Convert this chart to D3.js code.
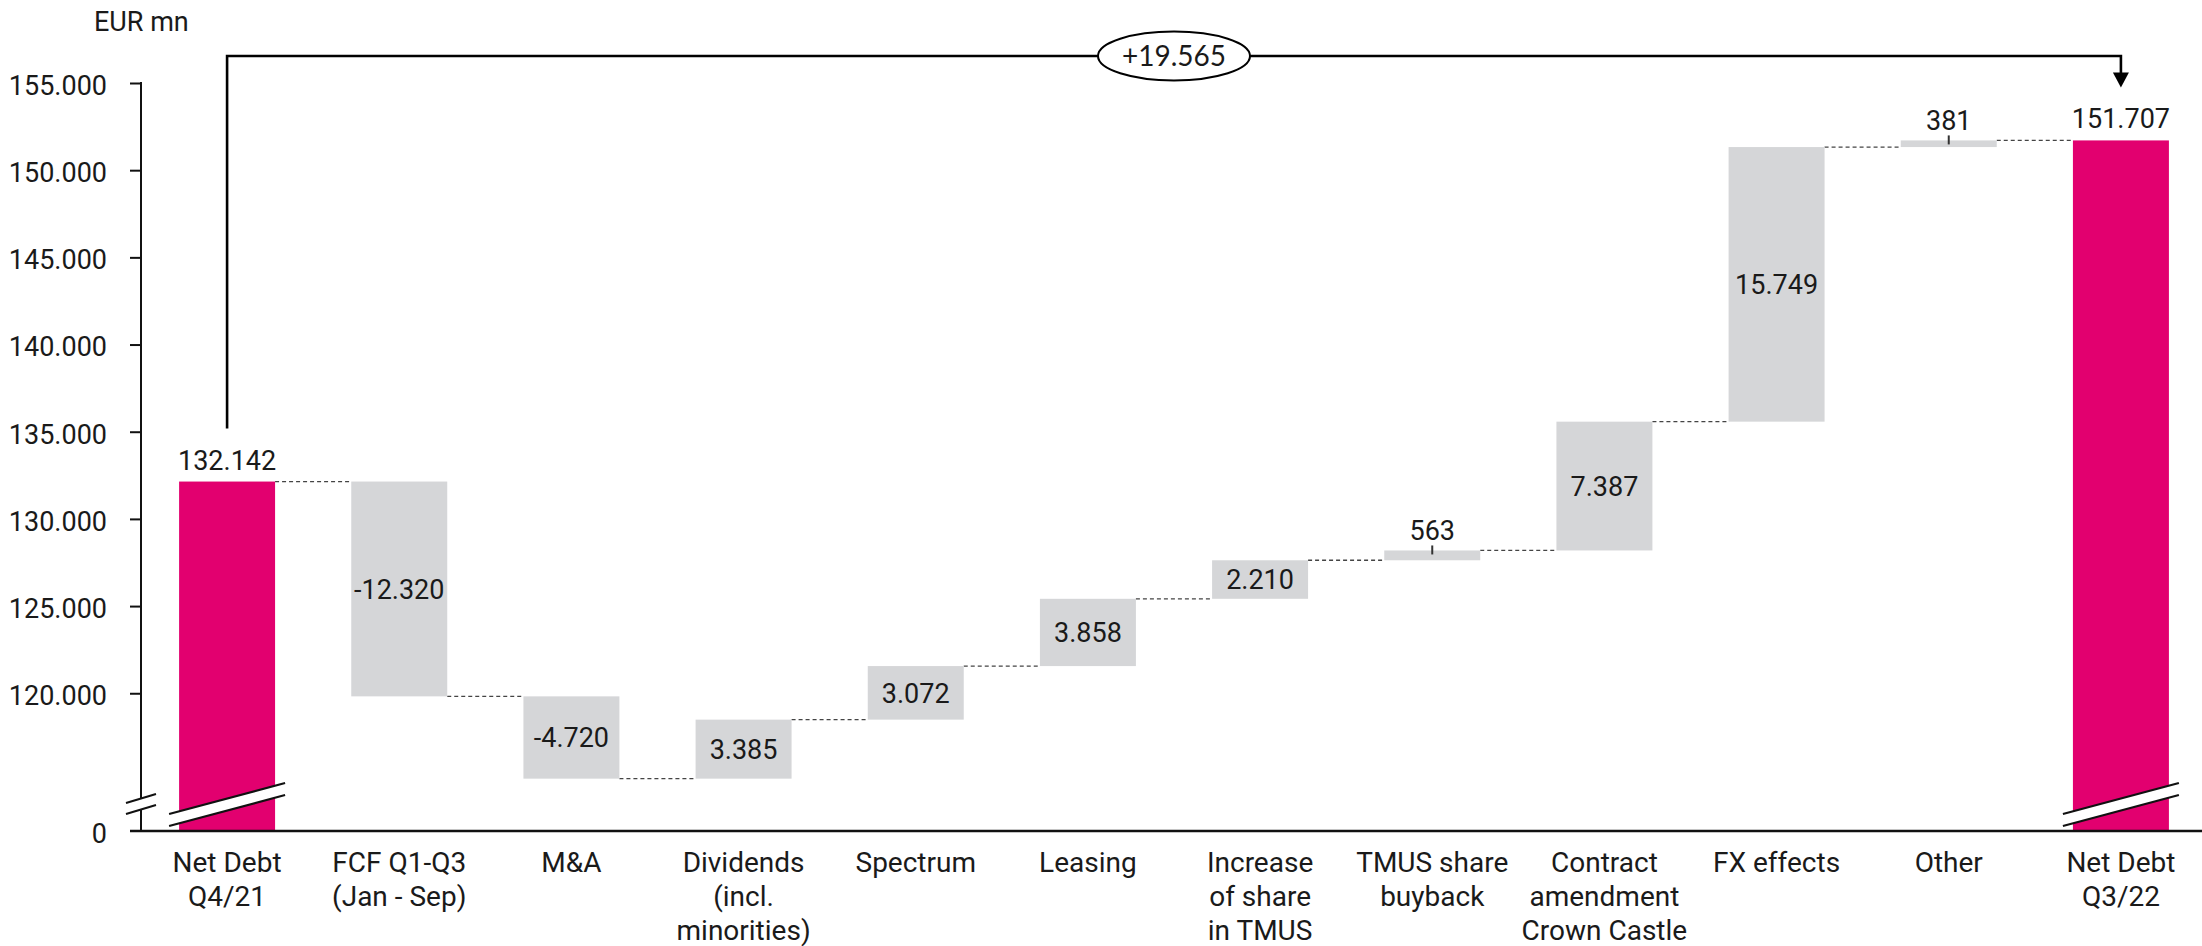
<!DOCTYPE html>
<html>
<head>
<meta charset="utf-8">
<script src="https://cdn.jsdelivr.net/npm/d3@7"></script>
<style>
  html, body { margin: 0; padding: 0; background: #fff; }
  svg text { font-family: 'Liberation Sans Narrow', 'Arial Narrow', Roboto, sans-serif; fill: #1a1a1a; }
</style>
</head>
<body>
<div id="chart"></div>
<script>
// data
const categories = [
    ["Net Debt", "Q4/21"],
    ["FCF Q1-Q3", "(Jan - Sep)"],
    ["M&A"],
    ["Dividends", "(incl.", "minorities)"],
    ["Spectrum"],
    ["Leasing"],
    ["Increase", "of share", "in TMUS"],
    ["TMUS share", "buyback"],
    ["Contract", "amendment", "Crown Castle"],
    ["FX effects"],
    ["Other"],
    ["Net Debt", "Q3/22"]
];
const values = [132142, -12320, -4720, 3385, 3072, 3858, 2210, 563, 7387, 15749, 381, 151707];
const isTotal = [true, false, false, false, false, false, false, false, false, false, false, true];
const yTicks = [120000, 125000, 130000, 135000, 140000, 145000, 150000, 155000];
const unitLabel = "EUR mn";

const W = 2202, H = 946;
const MAGENTA = "#e2006f", GREY = "#d5d6d8";
const FS = 28;      // labels
const FSN = 27;     // numbers

const de = d3.formatLocale({ decimal: ",", thousands: ".", grouping: [3], currency: ["", " €"], minus: "-" });
const fmt = de.format(",d");
const fmtSigned = de.format("+,d");

const svg = d3.select("#chart").append("svg")
    .attr("width", W)
    .attr("height", H);

// broken axis: bottom of the plot stands for 0
const yBottom = 112100;
const y = d3.scaleLinear()
    .domain([yBottom, 155000])
    .range([831, 83]);

const x = d3.scaleBand()
    .domain(d3.range(categories.length))
    .range([141, 2207])
    .paddingInner(0.4425)
    .paddingOuter(0.22125);

// running totals
let running = 0;
const bars = values.map((v, i) => {
    let lo, hi, end;
    if (isTotal[i]) {
        lo = yBottom; hi = v; end = v;
    } else {
        end = running + v;
        lo = Math.min(running, end); hi = Math.max(running, end);
    }
    running = end;
    return { i: i, v: v, lo: lo, hi: hi, end: end, total: isTotal[i] };
});

// y axis
const yAxis = d3.axisLeft(y)
    .tickValues([yBottom].concat(yTicks))
    .tickSize(11)
    .tickPadding(23)
    .tickFormat(d => d === yBottom ? "0" : fmt(d));

const gy = svg.append("g")
    .attr("transform", "translate(141,0)")
    .call(yAxis);
gy.select(".domain").remove();
gy.selectAll(".tick line").attr("stroke", "#111").attr("stroke-width", 2);
gy.selectAll(".tick text")
    .style("font-size", FSN + "px")
    .attr("dy", "0.42em")
    .attr("fill", "#1a1a1a");
gy.selectAll(".tick").filter(d => d === yBottom).select("line").remove();

// axis line with break
svg.append("line")
    .attr("x1", 141).attr("x2", 141)
    .attr("y1", y(155000) - 1).attr("y2", 798)
    .attr("stroke", "#111").attr("stroke-width", 2);
svg.append("line")
    .attr("x1", 141).attr("x2", 141)
    .attr("y1", 810).attr("y2", y(yBottom))
    .attr("stroke", "#111").attr("stroke-width", 2);
[[-28, -37], [-17, -26]].forEach(o => {
    svg.append("line")
        .attr("x1", 126).attr("y1", y(yBottom) + o[0])
        .attr("x2", 156).attr("y2", y(yBottom) + o[1])
        .attr("stroke", "#111").attr("stroke-width", 2);
});

svg.append("text")
    .attr("x", 94).attr("y", 31)
    .style("font-size", FSN + "px")
    .text(unitLabel);

// dashed connectors
svg.append("g")
    .selectAll("line")
    .data(bars.slice(0, -1))
    .enter().append("line")
    .attr("x1", d => x(d.i) + x.bandwidth())
    .attr("x2", d => x(d.i + 1))
    .attr("y1", d => y(d.end))
    .attr("y2", d => y(d.end))
    .attr("stroke", "#444")
    .attr("stroke-width", 1.3)
    .attr("stroke-dasharray", "4,3");

// bars
svg.append("g")
    .selectAll("rect")
    .data(bars)
    .enter().append("rect")
    .attr("x", d => x(d.i))
    .attr("width", x.bandwidth())
    .attr("y", d => y(d.hi))
    .attr("height", d => y(d.lo) - y(d.hi))
    .attr("fill", d => d.total ? MAGENTA : GREY);

// break marks across the total bars
bars.filter(d => d.total).forEach(d => {
    const xl = x(d.i) - 10, xr = x(d.i) + x.bandwidth() + 10, b = y(yBottom);
    svg.append("polygon")
        .attr("points", [[xl, b - 17], [xr, b - 48], [xr, b - 36], [xl, b - 5]].join(" "))
        .attr("fill", "#fff");
    [[-17, -48], [-5, -36]].forEach(o => {
        svg.append("line")
            .attr("x1", xl).attr("y1", b + o[0])
            .attr("x2", xr).attr("y2", b + o[1])
            .attr("stroke", "#111").attr("stroke-width", 2.2);
    });
});

// baseline
svg.append("line")
    .attr("x1", 130).attr("x2", W)
    .attr("y1", y(yBottom)).attr("y2", y(yBottom))
    .attr("stroke", "#111").attr("stroke-width", 2.5);

// value labels
const cx = i => x(i) + x.bandwidth() / 2;
bars.forEach(d => {
    const h = y(d.lo) - y(d.hi);
    const txt = fmt(d.v);
    if (d.total) {
        svg.append("text")
            .attr("x", cx(d.i)).attr("y", y(d.hi) - 12)
            .attr("text-anchor", "middle")
            .style("font-size", FSN + "px")
            .text(txt);
    } else if (h > 20) {
        svg.append("text")
            .attr("x", cx(d.i)).attr("y", (y(d.lo) + y(d.hi)) / 2)
            .attr("dy", "0.36em")
            .attr("text-anchor", "middle")
            .style("font-size", FSN + "px")
            .text(txt);
    } else {
        const top = y(d.hi);
        svg.append("line")
            .attr("x1", cx(d.i)).attr("x2", cx(d.i))
            .attr("y1", top - 5).attr("y2", top + 4)
            .attr("stroke", "#333").attr("stroke-width", 2);
        svg.append("text")
            .attr("x", cx(d.i)).attr("y", top - 10)
            .attr("text-anchor", "middle")
            .style("font-size", FSN + "px")
            .text(txt);
    }
});

// category labels
const cat = svg.append("g")
    .selectAll("text")
    .data(categories)
    .enter().append("text")
    .attr("x", (d, i) => cx(i))
    .attr("y", 872)
    .attr("text-anchor", "middle")
    .style("font-size", FS + "px");
cat.selectAll("tspan")
    .data(d => d)
    .enter().append("tspan")
    .attr("x", function () { return this.parentNode.getAttribute("x"); })
    .attr("dy", (d, j) => j === 0 ? 0 : 34)
    .text(d => d);

// bridge bracket with total change
const first = bars[0], last = bars[bars.length - 1];
const xa = cx(first.i), xb = cx(last.i), yb = y(155000) - 27;
const diff = last.v - first.v;
svg.append("path")
    .attr("d", `M${xa},${y(first.hi) - 53}V${yb}H${xb}V${y(last.hi) - 66}`)
    .attr("fill", "none")
    .attr("stroke", "#000")
    .attr("stroke-width", 2.6);
svg.append("path")
    .attr("d", `M${xb - 8},${y(last.hi) - 68}L${xb + 8},${y(last.hi) - 68}L${xb},${y(last.hi) - 53}Z`)
    .attr("fill", "#000");
const xm = (xa + xb) / 2;
svg.append("ellipse")
    .attr("cx", xm).attr("cy", yb)
    .attr("rx", 76).attr("ry", 24.5)
    .attr("fill", "#fff")
    .attr("stroke", "#000")
    .attr("stroke-width", 2);
svg.append("text")
    .attr("x", xm).attr("y", yb)
    .attr("dy", "0.36em")
    .attr("text-anchor", "middle")
    .style("font-family", "Lato, sans-serif")
    .style("font-size", "28px")
    .text(fmtSigned(diff));
</script>
</body>
</html>
